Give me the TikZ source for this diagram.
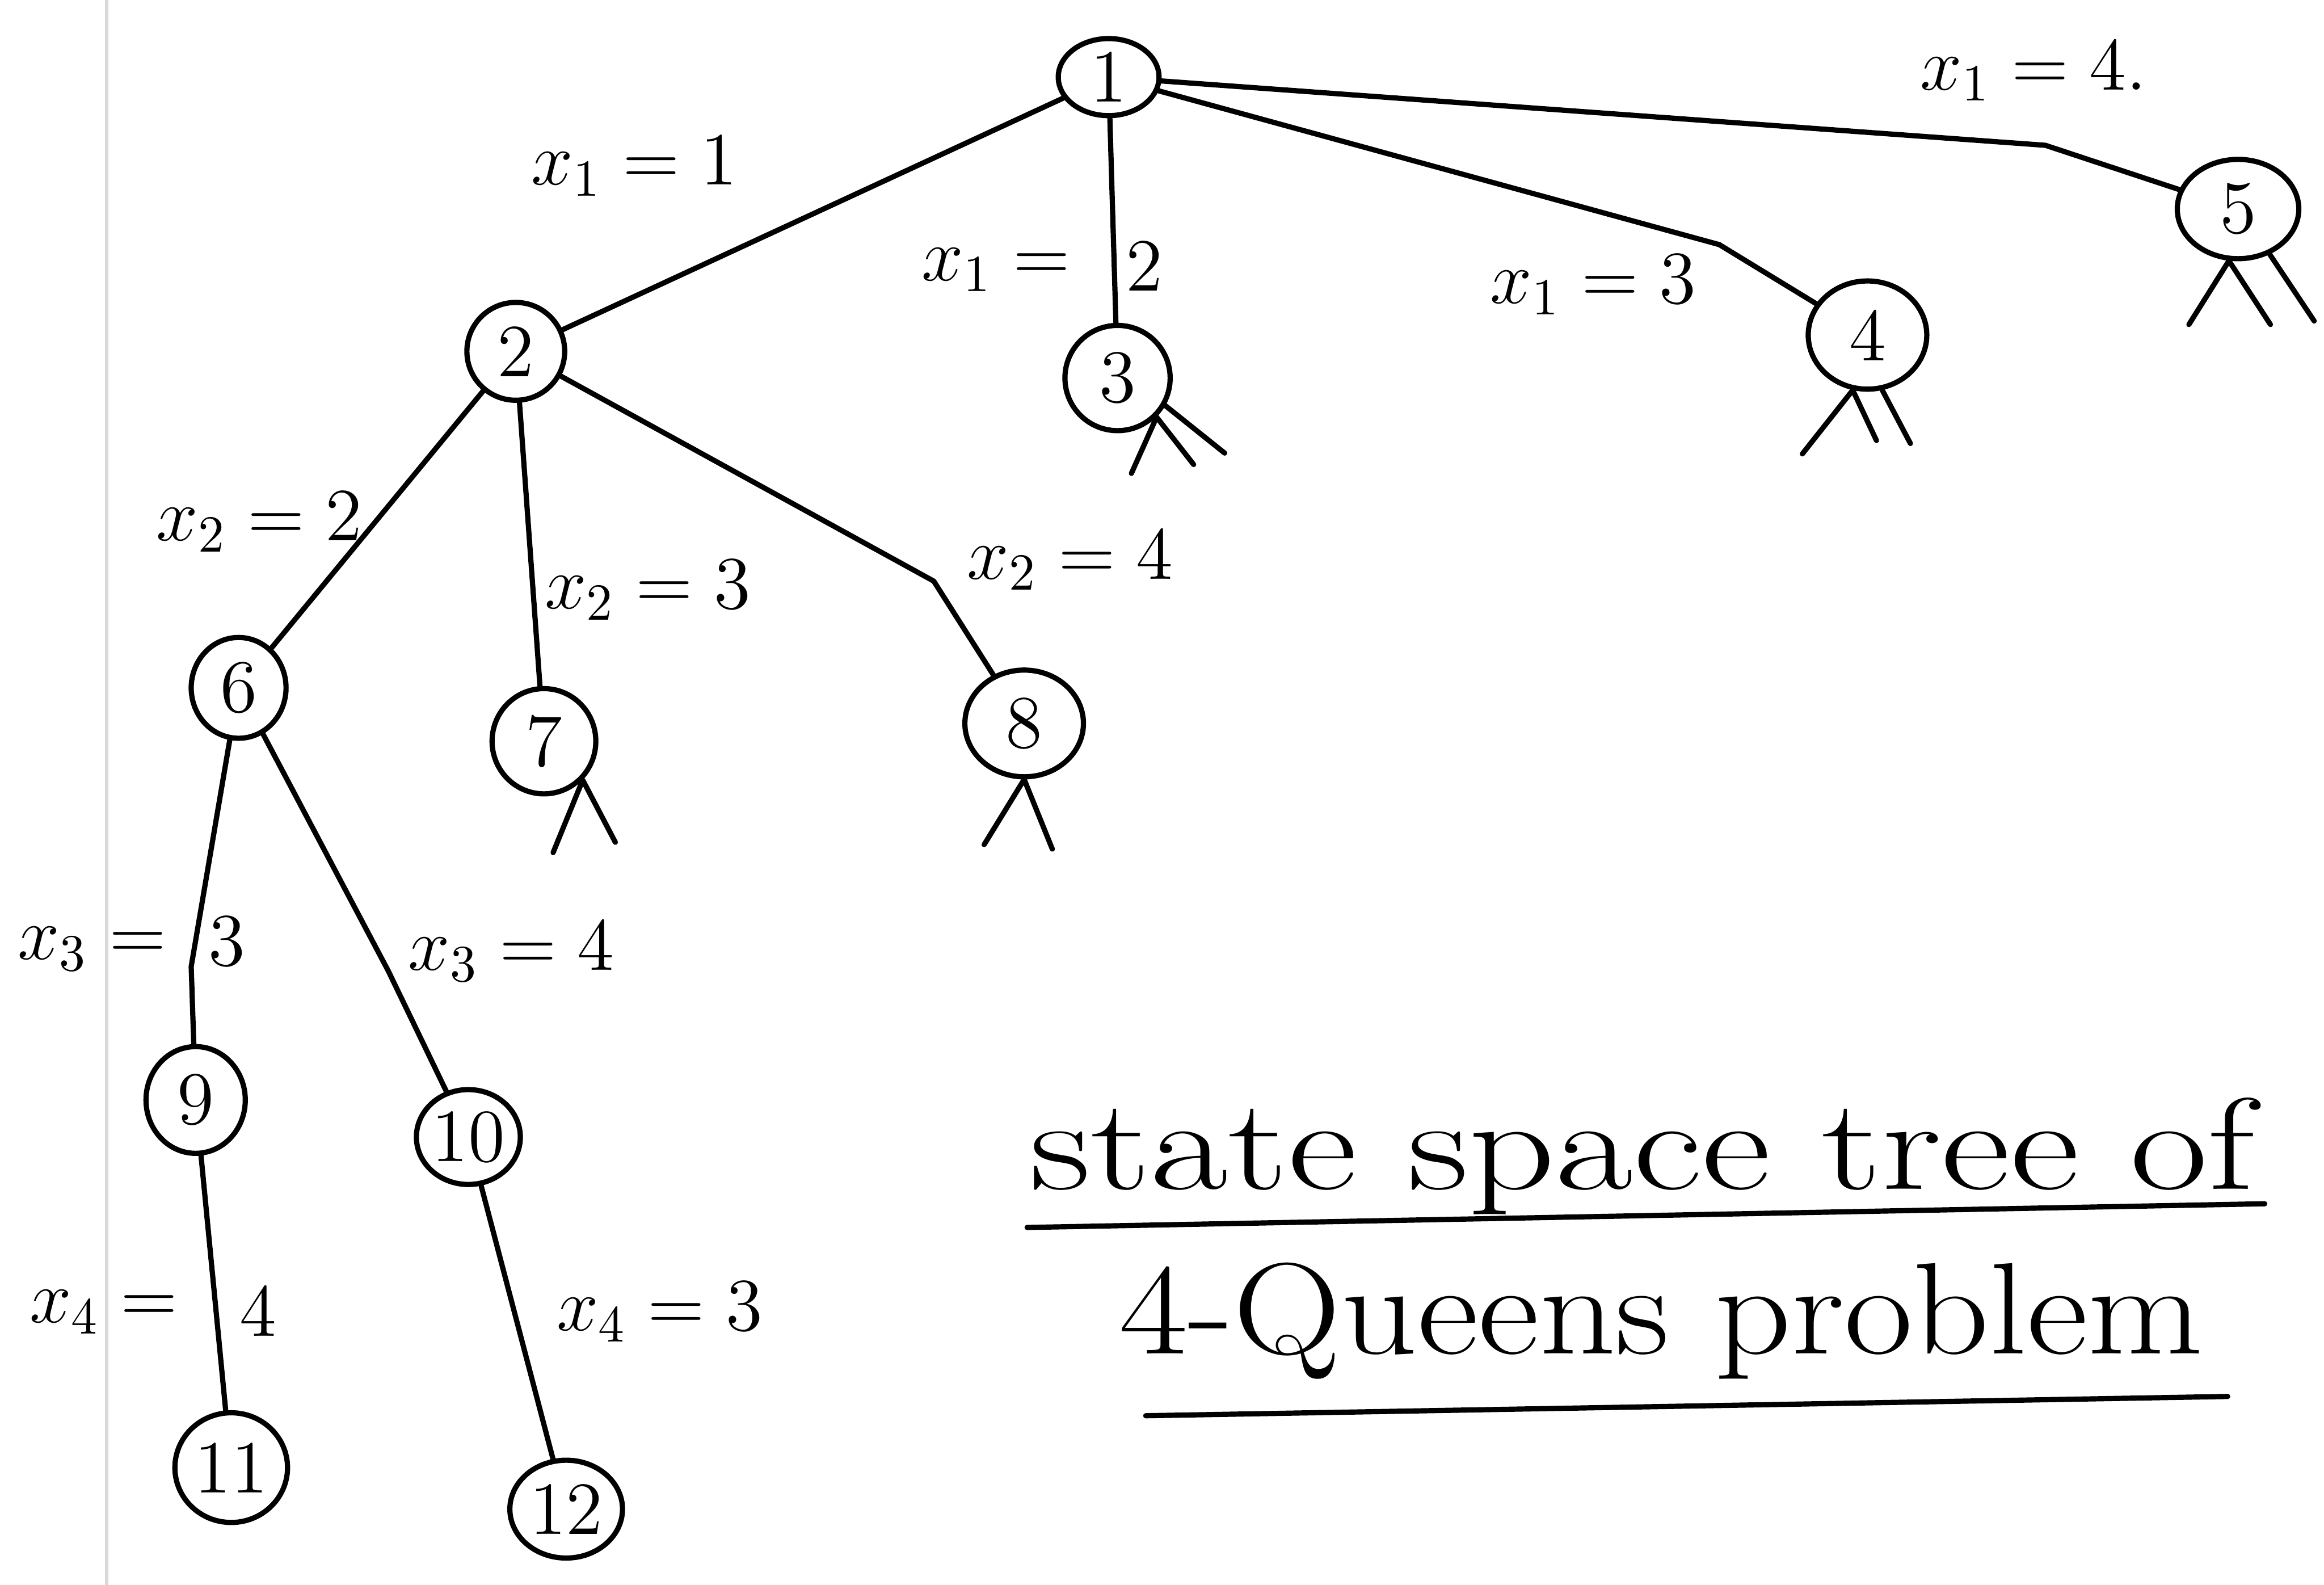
\documentclass[tikz,border=0pt]{standalone}
\usepackage{amsmath}
\usepackage{graphicx}
\usepackage{tikz}
\usetikzlibrary{shapes.geometric,calc}
\tikzset{
  st/.style    = {draw,ellipse,line width=1pt,inner sep=0pt,font=\Large},
  edge/.style  = {line width=1pt,line cap=round,line join=round},
  stub/.style  = {line width=1pt,line cap=round},
  lbl/.style   = {font=\Large,inner sep=1pt},
  title/.style = {font=\fontsize{25}{28}\selectfont,inner sep=0pt,anchor=base},
}
\begin{document}
\begin{tikzpicture}[x=0.1mm,y=-0.1mm]
  \useasboundingbox (0,0) rectangle (1568,1069);
  % paper margin
  \draw[black!15,line width=0.6pt] (72,0) -- (72,1069);

  % states
  \node[st,minimum width=6.8mm,minimum height=5.2mm] (n1)  at (748,52)   {1};
  \node[st,minimum width=6.6mm,minimum height=6.6mm] (n2)  at (348,237)  {2};
  \node[st,minimum width=7.1mm,minimum height=7.1mm] (n3)  at (754,255)  {3};
  \node[st,minimum width=8mm,minimum height=7.3mm]   (n4)  at (1260,226) {4};
  \node[st,minimum width=8.2mm,minimum height=6.7mm] (n5)  at (1510,141) {5};
  \node[st,minimum width=6.4mm,minimum height=6.8mm] (n6)  at (161,464)  {6};
  \node[st,minimum width=7mm,minimum height=7.1mm]   (n7)  at (367,500)  {7};
  \node[st,minimum width=8mm,minimum height=7.2mm]   (n8)  at (691,488)  {8};
  \node[st,minimum width=6.7mm,minimum height=7.2mm] (n9)  at (132,742)  {9};
  \node[st,minimum width=6.8mm,minimum height=6.4mm] (n10) at (316,767)  {10};
  \node[st,minimum width=7.6mm,minimum height=7.4mm] (n11) at (156,990)  {11};
  \node[st,minimum width=7.6mm,minimum height=6.6mm] (n12) at (382,1018) {12};

  % bends of the hand-drawn edges
  \coordinate (k14)  at (1160,165);
  \coordinate (k15)  at (1380,98);
  \coordinate (k28)  at (630,392);
  \coordinate (k69)  at (129,652);
  \coordinate (k610) at (262,655);

  % edges
  \draw[edge] (n1) -- (n2);
  \draw[edge] (n1) -- (n3);
  \draw[edge] (n1) -- (k14) -- (n4);
  \draw[edge] (n1) -- (k15) -- (n5);
  \draw[edge] (n2) -- (n6);
  \draw[edge] (n2) -- (n7);
  \draw[edge] (n2) -- (k28) -- (n8);
  \draw[edge] (n6) -- (k69) -- (n9);
  \draw[edge] (n6) -- (k610) -- (n10);
  \draw[edge] (n9) -- (n11);
  \draw[edge] (n10) -- (n12);

  % unexpanded subtrees
  \draw[stub] (n3.-45) -- ++(-17,38) (n3.-45) -- ++(25,32) (n3.-30) -- ++(40,32);
  \draw[stub] (n4.-105) -- ++(-34,43) (n4.-105) -- ++(16,34) (n4.-75) -- ++(19,36);
  \draw[stub] (n5.-100) -- ++(-27,43) (n5.-100) -- ++(28,43) (n5.-55) -- ++(30,45);
  \draw[stub] (n7.-45) -- ++(-20,49) (n7.-45) -- ++(22,42);
  \draw[stub] (n8.south) -- ++(-27,44) (n8.south) -- ++(19,47);

  % edge labels
  \node[lbl] (l11a) at (428,112)  {$x_1=1$};
  \node[lbl] (l12a) at (672,182)  {$x_1=$};
  \node[lbl] (l12b) at (772,180)  {$2$};
  \node[lbl] (l13)  at (1075,192) {$x_1=3$};
  \node[lbl] (l14)  at (1372,48)  {$x_1=4$.};
  \node[lbl] (l22)  at (175,352)  {$x_2=2$};
  \node[lbl] (l23)  at (437,398)  {$x_2=3$};
  \node[lbl] (l24)  at (722,378)  {$x_2=4$};
  \node[lbl] (l33a) at (62,640)   {$x_3=$};
  \node[lbl] (l33b) at (153,635)  {$3$};
  \node[lbl] (l34)  at (345,642)  {$x_3=4$};
  \node[lbl] (l44a) at (70,885)   {$x_4=$};
  \node[lbl] (l44b) at (174,885)  {$4$};
  \node[lbl] (l43)  at (445,885)  {$x_4=3$};

  % caption
  \node[title] (cap1) at (1108,802) {\scalebox{1.3}[1]{state space tree of}};
  \node[title] (cap2) at (1121,913) {\scalebox{1.15}[1]{4-Queens problem}};
  \draw[edge] (693,828) -- (1528,812);
  \draw[edge] (773,955) -- (1503,942);
\end{tikzpicture}
\end{document}
